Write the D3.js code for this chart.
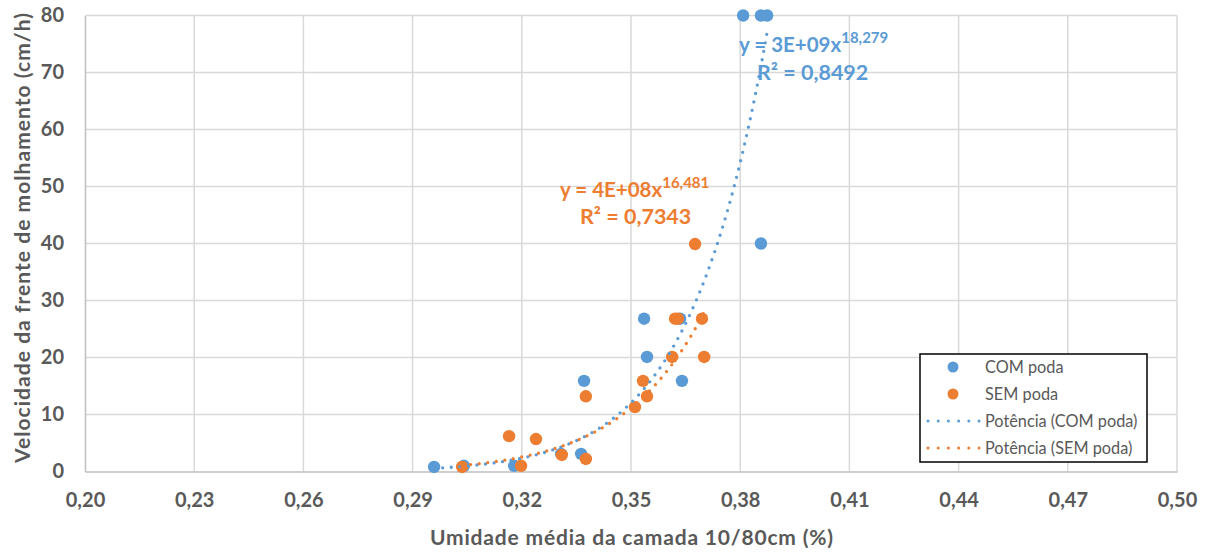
<!DOCTYPE html>
<html><head><meta charset="utf-8">
<script src="https://cdn.jsdelivr.net/npm/d3@7"></script>
<style>
html,body{margin:0;padding:0;background:#fff;}
svg text{font-family:Lato,"Open Sans",sans-serif;}
</style></head>
<body>
<svg id="chart" width="1212" height="556"></svg>
<script>
// ---- data ----
const xTicks = [0.20,0.23,0.26,0.29,0.32,0.35,0.38,0.41,0.44,0.47,0.50];
const yTicks = [0,10,20,30,40,50,60,70,80];
const comX = [0.2959,0.3041,0.3179,0.3308,0.3363,0.3371,0.3536,0.3544,0.3640,0.3635,0.3857,0.3808,0.3857,0.3874];
const comY = [0.8,1.0,1.0,3.1,3.1,15.9,26.8,20.1,15.9,26.8,40.0,80,80,80];
const semX = [0.3036,0.3198,0.3165,0.3239,0.3310,0.3376,0.3376,0.3511,0.3544,0.3533,0.3613,0.3701,0.3621,0.3629,0.3695,0.3676];
const semY = [0.8,1.0,6.2,5.7,2.9,2.2,13.2,11.3,13.2,15.9,20.1,20.1,26.8,26.8,26.8,39.9];
const seriesNames = ["COM poda","SEM poda"];
const trendNames = ["Potência (COM poda)","Potência (SEM poda)"];
const trendCoef = [2.6e9, 3.64e8];
const trendExp = [18.279, 16.481];
const eqMain = ["y = 3E+09x","y = 4E+08x"];
const eqSup = ["18,279","16,481"];
const eqR2 = ["R² = 0,8492","R² = 0,7343"];
const colors = ["#5B9BD5","#ED7D31"];

const svg = d3.select("#chart");
const x = d3.scaleLinear().domain([0.20,0.50]).range([85,1177]);
const y = d3.scaleLinear().domain([0,80]).range([471.5,15.5]);
const fmt = d => d3.format(".2f")(d).replace(".",",");
const txt = "#595959";

// gridlines
svg.append("g").selectAll("line").data(yTicks.filter(d=>d>0)).join("line")
  .attr("x1",x(0.20)).attr("x2",x(0.50)).attr("y1",d=>y(d)).attr("y2",d=>y(d))
  .attr("stroke","#D9D9D9").attr("stroke-width",1.5);
svg.append("g").selectAll("line").data(xTicks.filter(d=>d>0.2)).join("line")
  .attr("x1",d=>x(d)).attr("x2",d=>x(d)).attr("y1",y(0)).attr("y2",y(80))
  .attr("stroke","#D9D9D9").attr("stroke-width",1.5);
// axes
const xAxis = svg.append("g").attr("transform",`translate(0,${y(0)})`)
  .call(d3.axisBottom(x).tickValues(xTicks).tickFormat(fmt).tickSize(0).tickPadding(21));
const yAxis = svg.append("g").attr("transform",`translate(${x(0.20)},0)`)
  .call(d3.axisLeft(y).tickValues(yTicks).tickFormat(d3.format("d")).tickSize(0).tickPadding(21));
[xAxis,yAxis].forEach(a=>{
  a.select(".domain").attr("stroke","#BFBFBF").attr("stroke-width",1.5);
  a.selectAll("text").attr("fill",txt).attr("font-size",20).attr("font-weight","bold")
   .style("font-family","Lato, sans-serif");
});

// titles
svg.append("text").attr("x",631.5).attr("y",545).attr("text-anchor","middle")
  .attr("font-size",21).attr("font-weight","bold").attr("fill",txt)
  .attr("textLength",403).attr("lengthAdjust","spacing")
  .text("Umidade média da camada 10/80cm (%)");
svg.append("text").attr("transform","translate(30,238) rotate(-90)").attr("text-anchor","middle")
  .attr("font-size",21).attr("font-weight","bold").attr("fill",txt)
  .attr("textLength",450).attr("lengthAdjust","spacing")
  .text("Velocidade da frente de molhamento (cm/h)");

// points
const sets = [comX.map((v,i)=>[v,comY[i]]), semX.map((v,i)=>[v,semY[i]])];
sets.forEach((pts,k)=>{
  svg.append("g").selectAll("circle").data(pts).join("circle")
    .attr("cx",d=>x(d[0])).attr("cy",d=>y(d[1])).attr("r",6.2).attr("fill",colors[k]);
});
// trendlines
const line = d3.line().x(d=>x(d[0])).y(d=>y(d[1]));
sets.forEach((pts,k)=>{
  const ext = d3.extent(pts,d=>d[0]);
  const xs = d3.range(ext[0],ext[1],(ext[1]-ext[0])/200).concat([ext[1]]);
  const tr = xs.map(v=>[v, trendCoef[k]*Math.pow(v,trendExp[k])]).filter(d=>d[1]<=80.5);
  svg.append("path").datum(tr).attr("d",line).attr("fill","none")
    .attr("stroke",colors[k]).attr("stroke-width",3.3).attr("stroke-linecap","round")
    .attr("stroke-dasharray","0 8.6");
});

// equation labels
const eqPos = [[739,52,757,80],[560,197,580,224]];
eqPos.forEach((p,k)=>{
  const t = svg.append("text").attr("x",p[0]).attr("y",p[1]).attr("fill",colors[k])
    .attr("font-size",20.5).attr("font-weight","bold");
  t.append("tspan").text(eqMain[k]);
  t.append("tspan").attr("dy",-9).attr("font-size",15).text(eqSup[k]);
  svg.append("text").attr("x",p[2]).attr("y",p[3]).attr("fill",colors[k])
    .attr("font-size",21.5).attr("font-weight","bold").text(eqR2[k]);
});

// legend
const lg = svg.append("g");
lg.append("rect").attr("x",920).attr("y",354).attr("width",227).attr("height",108)
  .attr("fill","#fff").attr("stroke","#000").attr("stroke-width",1.5);
const rows = [367,394,421,448];
[0,1].forEach(k=>{
  lg.append("circle").attr("cx",953).attr("cy",rows[k]).attr("r",5.5).attr("fill",colors[k]);
  lg.append("text").attr("x",985).attr("y",rows[k]+5.5).attr("font-size",16.3).attr("fill",txt).text(seriesNames[k]);
  lg.append("line").attr("x1",928).attr("x2",979).attr("y1",rows[k+2]).attr("y2",rows[k+2])
    .attr("stroke",colors[k]).attr("stroke-width",3).attr("stroke-linecap","round").attr("stroke-dasharray","0 10.2");
  lg.append("text").attr("x",985).attr("y",rows[k+2]+5.5).attr("font-size",16.3).attr("fill",txt).text(trendNames[k]);
});
</script>
</body></html>
